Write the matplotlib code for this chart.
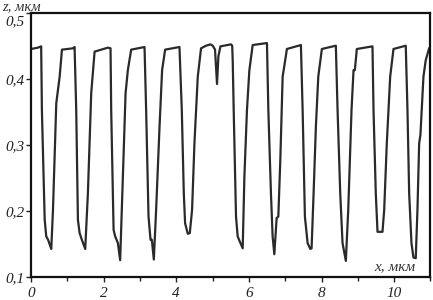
import matplotlib
matplotlib.use('Agg')
import matplotlib.pyplot as plt
import matplotlib.ticker as mticker
import matplotlib.transforms as mtransforms

# Profile trace, x (мкм) and z (мкм)
x_um = [0.0, 0.19, 0.28, 0.30, 0.377, 0.42, 0.47, 0.558, 0.605, 0.696, 0.789, 0.852,
        1.155, 1.20, 1.245, 1.292, 1.339, 1.40, 1.493, 1.567, 1.658, 1.751,
        2.117, 2.19, 2.208, 2.274, 2.318, 2.392, 2.455, 2.53, 2.604, 2.667, 2.758,
        3.126, 3.17, 3.236, 3.291, 3.327, 3.382, 3.445, 3.539, 3.61, 3.693,
        4.088, 4.152, 4.207, 4.243, 4.317, 4.372, 4.435, 4.501, 4.592, 4.682,
        4.82, 4.941, 5.004, 5.067, 5.122, 5.16, 5.216, 5.507, 5.54, 5.554,
        5.581, 5.645, 5.691, 5.766, 5.829, 5.876, 5.947, 6.013, 6.104,
        6.497, 6.535, 6.607, 6.653, 6.70, 6.764, 6.81, 6.865, 6.929, 7.047,
        7.432, 7.479, 7.542, 7.616, 7.69, 7.726, 7.781, 7.844, 7.91, 8.009,
        8.394, 8.441, 8.515, 8.578, 8.669, 8.735, 8.826, 8.881, 8.917, 8.972,
        9.403, 9.431, 9.494, 9.541, 9.678, 9.725, 9.797, 9.89, 9.981,
        10.319, 10.366, 10.413, 10.476, 10.531, 10.594, 10.641, 10.688, 10.723,
        10.806, 10.869, 10.962, 11.0]
z_um = [0.445, 0.447, 0.449, 0.353, 0.186, 0.161, 0.156, 0.142, 0.201, 0.363, 0.403, 0.444,
        0.446, 0.448, 0.353, 0.186, 0.166, 0.156, 0.142, 0.227, 0.378, 0.441,
        0.447, 0.446, 0.353, 0.171, 0.161, 0.151, 0.125, 0.252, 0.378, 0.413, 0.444,
        0.448, 0.353, 0.191, 0.156, 0.156, 0.126, 0.201, 0.327, 0.413, 0.444,
        0.448, 0.353, 0.227, 0.181, 0.165, 0.166, 0.201, 0.303, 0.403, 0.446,
        0.450, 0.452, 0.450, 0.444, 0.392, 0.434, 0.449, 0.452, 0.450, 0.428,
        0.353, 0.191, 0.161, 0.151, 0.143, 0.252, 0.353, 0.413, 0.451,
        0.454, 0.353, 0.226, 0.161, 0.134, 0.189, 0.191, 0.277, 0.403, 0.445,
        0.451, 0.353, 0.191, 0.151, 0.142, 0.143, 0.226, 0.327, 0.403, 0.445,
        0.450, 0.353, 0.226, 0.151, 0.124, 0.201, 0.353, 0.413, 0.413, 0.445,
        0.449, 0.353, 0.226, 0.168, 0.168, 0.201, 0.302, 0.403, 0.445,
        0.450, 0.353, 0.226, 0.151, 0.129, 0.128, 0.201, 0.302, 0.315,
        0.403, 0.428, 0.446, 0.448]

x_ticks = [0, 2, 4, 6, 8, 10]
x_minor = [1, 3, 5, 7, 9, 11]
y_ticks = [0.1, 0.2, 0.3, 0.4, 0.5]

plt.rcParams['font.family'] = ['Liberation Serif', 'DejaVu Serif']
plt.rcParams['font.style'] = 'italic'

fig = plt.figure(figsize=(4.33, 3.0), dpi=100)
ax = fig.add_axes([0.0716, 0.0777, 0.9226, 0.88])

ax.plot(x_um, z_um, color='#2a2a2a', lw=1.6, solid_joinstyle='round')

ax.set_xlim(0, 11.0)
ax.set_ylim(0.1, 0.5)
ax.set_xticks(x_ticks)
ax.set_xticks(x_minor, minor=True)
ax.set_yticks(y_ticks)
ax.set_xticklabels([str(v) for v in x_ticks])
ax.set_yticklabels([f'{v:.1f}'.replace('.', ',') for v in y_ticks])

ax.tick_params(axis='both', which='major', direction='out', length=3.5, width=1.0,
               labelsize=11, color='#222222', labelcolor='#222222')
ax.tick_params(axis='x', which='major', pad=4)
ax.tick_params(axis='y', which='major', pad=1)
ax.tick_params(axis='x', which='minor', direction='out', length=3, width=1.0, color='#222222')

for s in ax.spines.values():
    s.set_linewidth(1.6)
    s.set_color('#111111')

# top y label sits a little lower in the reference
top_lbl = ax.get_yticklabels()[-1]
top_lbl.set_transform(top_lbl.get_transform() +
                      mtransforms.ScaledTranslation(0, -7 / 100, fig.dpi_scale_trans))

ax.text(0.963, 0.025, 'x, мкм', transform=ax.transAxes, ha='right', va='baseline',
        fontsize=11, color='#333333')
fig.text(0.005, 0.999, 'z, мкм', ha='left', va='top', fontsize=10.5, color='#333333')

fig.savefig('out.png', dpi=100)
